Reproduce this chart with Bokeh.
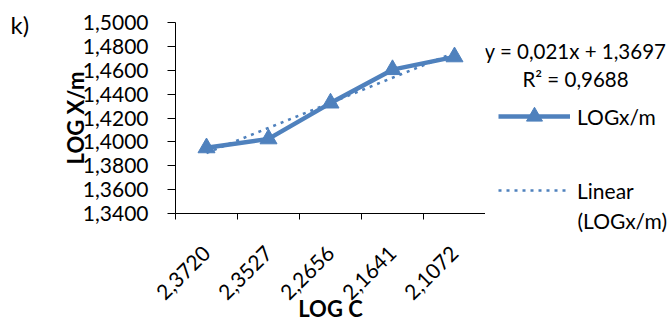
import math
from bokeh.plotting import figure
from bokeh.layouts import row
from bokeh.models import (Range1d, FixedTicker, CustomJSTickFormatter, Label,
                          Legend, LegendItem)
from bokeh.embed import file_html
from bokeh.resources import INLINE

# ---- data ----
categories = ["2,3720", "2,3527", "2,2656", "2,1641", "2,1072"]
log_xm = [1.3950, 1.4025, 1.4325, 1.4605, 1.4712]
y_ticks = [1.34, 1.36, 1.38, 1.40, 1.42, 1.44, 1.46, 1.48, 1.50]
trend_slope = 0.021
trend_intercept = 1.3697
r_squared = 0.9688
series_name = "LOGx/m"
trend_name = "Linear"
trend_name_2 = "(LOGx/m)"
x_title = "LOG C"
y_title = "LOG X/m"
panel_tag = "k)"

x_idx = list(range(1, len(categories) + 1))
trend_y = [trend_intercept + trend_slope * i for i in x_idx]

BLUE = "#4F81BD"
FONT = "Lato"
FS = "21px"
H = 324
LEFT_W = 40
MAIN_W = 445
RIGHT_W = 671 - LEFT_W - MAIN_W

# ---------------- left strip: panel tag ----------------
pl = figure(width=LEFT_W, height=H, output_backend="svg", toolbar_location=None,
            x_range=Range1d(0, 1), y_range=Range1d(0, 1),
            x_axis_type=None, y_axis_type=None, min_border=0, frame_align=False)
pl.outline_line_color = None
pl.grid.visible = False
pl.add_layout(Label(x=10, y=H - 9, x_units="screen", y_units="screen",
                    text=panel_tag, text_font=FONT, text_font_size="24px",
                    text_align="left", text_baseline="top", text_color="black"))

# ---------------- main plot ----------------
p = figure(width=MAIN_W, height=H, output_backend="svg", toolbar_location=None,
           x_range=Range1d(0.5, len(categories) + 0.5),
           y_range=Range1d(y_ticks[0], y_ticks[-1]),
           min_border_left=135, min_border_right=0,
           min_border_top=22, min_border_bottom=111, frame_align=False)
p.outline_line_color = None
p.grid.visible = False

xa = p.xaxis[0]
xa.ticker = FixedTicker(ticks=x_idx,
                        minor_ticks=[i - 0.5 for i in x_idx] + [x_idx[-1] + 0.5])
xa.major_label_overrides = {i: c for i, c in zip(x_idx, categories)}
xa.major_label_orientation = math.pi / 4
xa.major_tick_out = 0
xa.major_tick_in = 0
xa.minor_tick_out = 6
xa.minor_tick_in = 0
xa.minor_tick_line_color = "black"
xa.axis_line_color = "black"
xa.major_label_text_font = FONT
xa.major_label_text_font_size = FS
xa.major_label_text_color = "black"
xa.major_label_standoff = 30
xa.axis_label = x_title
xa.axis_label_text_font = FONT
xa.axis_label_text_font_size = "22px"
xa.axis_label_text_font_style = "bold"
xa.axis_label_text_color = "black"
xa.axis_label_standoff = -15

ya = p.yaxis[0]
ya.ticker = FixedTicker(ticks=y_ticks, minor_ticks=[])
ya.formatter = CustomJSTickFormatter(code="return tick.toFixed(4).replace('.', ',');")
ya.major_tick_out = 8
ya.major_tick_in = 0
ya.major_tick_line_color = "black"
ya.axis_line_color = "black"
ya.major_label_text_font = FONT
ya.major_label_text_font_size = FS
ya.major_label_text_color = "black"
ya.major_label_standoff = 19
ya.axis_label = y_title
ya.axis_label_text_font = FONT
ya.axis_label_text_font_size = "22px"
ya.axis_label_text_font_style = "bold"
ya.axis_label_text_color = "black"
ya.axis_label_standoff = -9

p.line(x_idx, log_xm, line_color=BLUE, line_width=4.5)
p.scatter(x_idx, log_xm, marker="triangle", size=17, fill_color=BLUE, line_color=BLUE)
p.line(x_idx, trend_y, line_color=BLUE, line_width=2.5, line_dash="3 5")

# ---------------- right strip: legend + trendline equation ----------------
# legend proxies reuse the series data; the strip's ranges keep them out of view
pr = figure(width=RIGHT_W, height=H, output_backend="svg", toolbar_location=None,
            x_range=Range1d(-2, -1), y_range=Range1d(-2, -1),
            x_axis_type=None, y_axis_type=None, min_border=0, frame_align=False)
pr.outline_line_color = None
pr.grid.visible = False
lg_line = pr.line(x_idx, log_xm, line_color=BLUE, line_width=4.5)
lg_mark = pr.scatter(x_idx, log_xm, marker="triangle", size=17,
                     fill_color=BLUE, line_color=BLUE)
lg_trend = pr.line(x_idx, trend_y, line_color=BLUE, line_width=2.5, line_dash="3 5")

LEG_H = 40 + 34 + 40
legend = Legend(items=[LegendItem(label=series_name, renderers=[lg_line, lg_mark]),
                       LegendItem(label=trend_name, renderers=[lg_trend])],
                location=(13, H - 96 - LEG_H), orientation="vertical", padding=0,
                spacing=34, glyph_width=72, glyph_height=40, label_height=40,
                label_standoff=7, label_text_font=FONT, label_text_font_size=FS,
                label_text_color="black", border_line_color=None,
                background_fill_alpha=0, margin=0)
pr.add_layout(legend)

pr.add_layout(Label(x=92, y=H - 220, x_units="screen", y_units="screen",
                    text=trend_name_2, text_font=FONT, text_font_size=FS,
                    text_align="left", text_baseline="middle", text_color="black"))

eq_text = "y = {:.3f}x + {:.4f}".format(trend_slope, trend_intercept).replace(".", ",")
r2_text = "R² = {:.4f}".format(r_squared).replace(".", ",")
pr.add_layout(Label(x=90, y=H - 50, x_units="screen", y_units="screen",
                    text=eq_text, text_font=FONT, text_font_size="20.5px",
                    text_align="center", text_baseline="middle", text_color="black"))
pr.add_layout(Label(x=90, y=H - 78, x_units="screen", y_units="screen",
                    text=r2_text, text_font=FONT, text_font_size="20.5px",
                    text_align="center", text_baseline="middle", text_color="black"))

layout = row(pl, p, pr)
open("out.html", "w").write(file_html(layout, INLINE))
